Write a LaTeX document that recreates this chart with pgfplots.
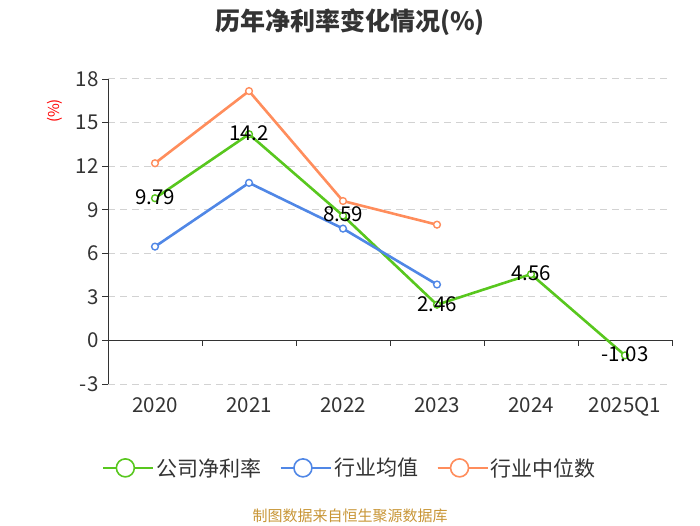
\documentclass[border=0pt]{standalone}
\usepackage{pgfplots}
\pgfplotsset{compat=1.18}
\usepackage{fontspec}
\setmainfont{Noto Sans CJK SC}
\definecolor{cgreen}{RGB}{88,199,30}
\definecolor{cblue}{RGB}{80,135,230}
\definecolor{corange}{RGB}{255,141,92}
\definecolor{ctick}{RGB}{51,51,51}
\definecolor{cgrid}{RGB}{210,210,210}
\definecolor{csrc}{RGB}{200,150,55}
\begin{document}
\begin{tikzpicture}[x=1pt,y=1pt]
\useasboundingbox (0,0) rectangle (700,525);
\node[font=\fontsize{25}{28}\selectfont\bfseries, text=ctick] at (350,503) {历年净利率变化情况(\%)};
\node[font=\fontsize{15}{17}\selectfont, text=csrc] at (350,9) {制图数据来自恒生聚源数据库};
\begin{axis}[
  at={(108pt,141pt)}, anchor=south west,
  width=564pt, height=305pt, scale only axis,
  xmin=-0.5, xmax=5.5, ymin=-3, ymax=18,
  ytick={-3,0,3,6,9,12,15,18},
  xtick={0,1,2,3,4,5},
  xticklabels={2020,2021,2022,2023,2024,2025Q1},
  axis x line*=bottom, axis y line*=left,
  x axis line style={draw=none},
  y axis line style={draw=ctick, line width=0.8pt},
  xtick style={draw=none},
  ytick style={draw=ctick, line width=0.8pt},
  tick align=outside, major tick length=6pt,
  ymajorgrids, grid style={cgrid, dashed, dash pattern=on 7pt off 5pt, line width=1pt},
  ticklabel style={font=\fontsize{20.5}{22}\selectfont, text=ctick},
  xticklabel style={yshift=-4pt},
  /pgf/number format/assume math mode=true,
  ylabel={(\%)}, ylabel style={font=\fontsize{15}{17}\selectfont, text=red, at={(axis description cs:-0.095,0.895)}, anchor=center},
  clip=false,
  legend columns=3,
  legend style={draw=none, fill=none, at={(axis description cs:0.429,-0.275)}, anchor=center,
    font=\fontsize{21}{23}\selectfont, text=ctick,
    /tikz/every even column/.append style={column sep=16pt}},
  legend image code/.code={
    \path (0pt,0pt) -- (50pt,0pt);
    \draw[#1, mark=none, line width=1.6pt] (0pt,0pt) -- (44pt,0pt);
    \draw[#1, mark=none, line width=1.6pt, fill=white] (22pt,0pt) circle (9pt);
  },
]
\draw[ctick, line width=1pt] (axis cs:-0.5,0) -- (axis cs:5.5,0);
\pgfplotsinvokeforeach{-0.5,0.5,1.5,2.5,3.5,4.5,5.5}{
  \draw[ctick, line width=1pt] (axis cs:#1,0) -- ([yshift=-6pt]axis cs:#1,0);
}
\addplot[cgreen, line width=2.6pt, mark=*, mark size=3.4pt, mark options={fill=white, draw=cgreen, line width=1.4pt},
  nodes near coords, point meta=explicit symbolic,
  every node near coord/.append style={anchor=center, yshift=1pt, font=\fontsize{20.5}{22}\selectfont, text=black}]
  table[meta=lab] {
x y lab
0 9.79 9.79
1 14.2 14.2
2 8.59 8.59
3 2.46 2.46
4 4.56 4.56
5 -1.03 -1.03
};
\addlegendentry{公司净利率}
\addplot[cblue, line width=2.6pt, mark=*, mark size=3.4pt, mark options={fill=white, draw=cblue, line width=1.4pt}]
  coordinates {(0,6.46) (1,10.85) (2,7.7) (3,3.85)};
\addlegendentry{行业均值}
\addplot[corange, line width=2.6pt, mark=*, mark size=3.4pt, mark options={fill=white, draw=corange, line width=1.4pt}]
  coordinates {(0,12.2) (1,17.17) (2,9.6) (3,7.97)};
\addlegendentry{行业中位数}
\end{axis}
\end{tikzpicture}
\end{document}
